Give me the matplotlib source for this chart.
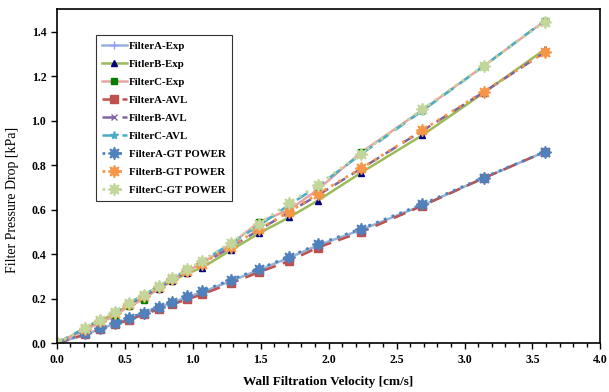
import matplotlib
matplotlib.use("Agg")
import matplotlib.pyplot as plt
from matplotlib.ticker import MultipleLocator

plt.rcParams['font.family'] = ['Liberation Serif', 'DejaVu Serif']
plt.rcParams['font.weight'] = 'bold'

x = [0, 0.21, 0.32, 0.43, 0.53, 0.64, 0.75, 0.85, 0.96, 1.07, 1.28, 1.49, 1.71, 1.92, 2.24, 2.69, 3.14, 3.59]

a_exp = [0, 0.040, 0.065, 0.088, 0.110, 0.135, 0.160, 0.183, 0.208, 0.230, 0.280, 0.330, 0.385, 0.440, 0.510, 0.620, 0.742, 0.860]
b_exp = [0, 0.065, 0.100, 0.135, 0.172, 0.205, 0.245, 0.280, 0.315, 0.340, 0.418, 0.495, 0.566, 0.641, 0.767, 0.935, 1.125, 1.320]
c_exp = [0, 0.060, 0.095, 0.122, 0.170, 0.195, 0.250, 0.285, 0.325, 0.360, 0.445, 0.545, 0.600, 0.690, 0.858, 1.048, 1.245, 1.448]
a_avl = [0, 0.040, 0.063, 0.085, 0.105, 0.130, 0.153, 0.175, 0.198, 0.220, 0.270, 0.320, 0.370, 0.430, 0.500, 0.618, 0.742, 0.860]
b_avl = [0, 0.068, 0.105, 0.140, 0.175, 0.212, 0.250, 0.285, 0.322, 0.355, 0.432, 0.510, 0.590, 0.665, 0.785, 0.955, 1.128, 1.307]
c_avl = [0, 0.070, 0.108, 0.145, 0.180, 0.218, 0.256, 0.292, 0.330, 0.368, 0.448, 0.530, 0.622, 0.705, 0.850, 1.045, 1.245, 1.450]
a_gt = [0, 0.045, 0.068, 0.090, 0.113, 0.138, 0.163, 0.188, 0.212, 0.235, 0.285, 0.335, 0.390, 0.445, 0.515, 0.625, 0.745, 0.860]
b_gt = [0, 0.065, 0.102, 0.138, 0.175, 0.212, 0.252, 0.287, 0.325, 0.358, 0.435, 0.514, 0.591, 0.671, 0.786, 0.958, 1.130, 1.307]
c_gt = [0, 0.068, 0.106, 0.143, 0.180, 0.218, 0.256, 0.293, 0.332, 0.370, 0.452, 0.538, 0.629, 0.711, 0.852, 1.051, 1.246, 1.445]

fig = plt.figure(figsize=(6.09, 3.92), dpi=100)
ax = fig.add_axes([0.093, 0.124, 0.893, 0.852])

ax.plot(x, a_exp, color='#95B3D7', lw=1.8, marker='+', ms=6, mec='#9999FF', mew=1.0, label='FilterA-Exp')
ax.plot(x, b_exp, color='#9BBB59', lw=1.8, marker='^', ms=4.5, mfc='#000080', mec='#000080', label='FitlerB-Exp')
ax.plot(x, c_exp, color='#E6A5A5', lw=1.8, marker='s', ms=4.5, mfc='#008000', mec='#008000', label='FilterC-Exp')
ax.plot(x, a_avl, color='#C0504D', lw=1.8, ls=(0, (5, 3)), marker='s', ms=6, mfc='#C0504D', mec='#C0504D', label='FilterA-AVL')
ax.plot(x, b_avl, color='#8064A2', lw=1.8, ls=(0, (5, 3)), marker='x', ms=5, mec='#8064A2', mew=1.0, label='FilterB-AVL')
ax.plot(x, c_avl, color='#4BACC6', lw=1.8, ls=(0, (5, 3)), marker='*', ms=6, mfc='#4BACC6', mec='#4BACC6', label='FilterC-AVL')
ax.plot(x, a_gt, color='#4F81BD', lw=2.0, ls=(0, (1, 2)), marker=(8, 1, 0), ms=9, mfc='#4F81BD', mec='#4F81BD', label='FilterA-GT POWER')
ax.plot(x, b_gt, color='#F79646', lw=2.0, ls=(0, (1, 2)), marker=(8, 1, 0), ms=9, mfc='#F79646', mec='#F79646', label='FilterB-GT POWER')
ax.plot(x, c_gt, color='#C3D69B', lw=2.0, ls=(0, (1, 2)), marker=(8, 1, 0), ms=9, mfc='#C3D69B', mec='#C3D69B', label='FilterC-GT POWER')

ax.set_xlim(0, 4.0)
ax.set_ylim(0, 1.5)
ax.xaxis.set_major_locator(MultipleLocator(0.5))
ax.xaxis.set_minor_locator(MultipleLocator(0.1))
ax.yaxis.set_major_locator(MultipleLocator(0.2))
ax.xaxis.set_major_formatter(matplotlib.ticker.FormatStrFormatter('%.1f'))
ax.yaxis.set_major_formatter(matplotlib.ticker.FormatStrFormatter('%.1f'))
ax.tick_params(axis='both', which='both', direction='out', labelsize=8.5, width=1.0)
ax.tick_params(axis='both', which='major', length=4)
ax.tick_params(axis='x', which='minor', length=3)
for s in ax.spines.values():
    s.set_linewidth(1.2)
    s.set_color('black')

ax.set_xlabel('Wall Filtration Velocity [cm/s]', fontsize=9.5, fontweight='bold')
ax.xaxis.set_label_coords(0.5, -0.098)
ax.set_ylabel('Filter Pressure Drop [kPa]', fontsize=10, fontweight='normal')
ax.yaxis.set_label_coords(-0.07, 0.43)

leg = ax.legend(loc='upper left', bbox_to_anchor=(0.072, 0.922), fontsize=7.8, frameon=True,
                fancybox=False, edgecolor='black', handlelength=2.3, handletextpad=0.2,
                labelspacing=0.78, borderpad=0.55, borderaxespad=0)
leg.get_frame().set_linewidth(0.8)

fig.savefig('out.png', dpi=100)
